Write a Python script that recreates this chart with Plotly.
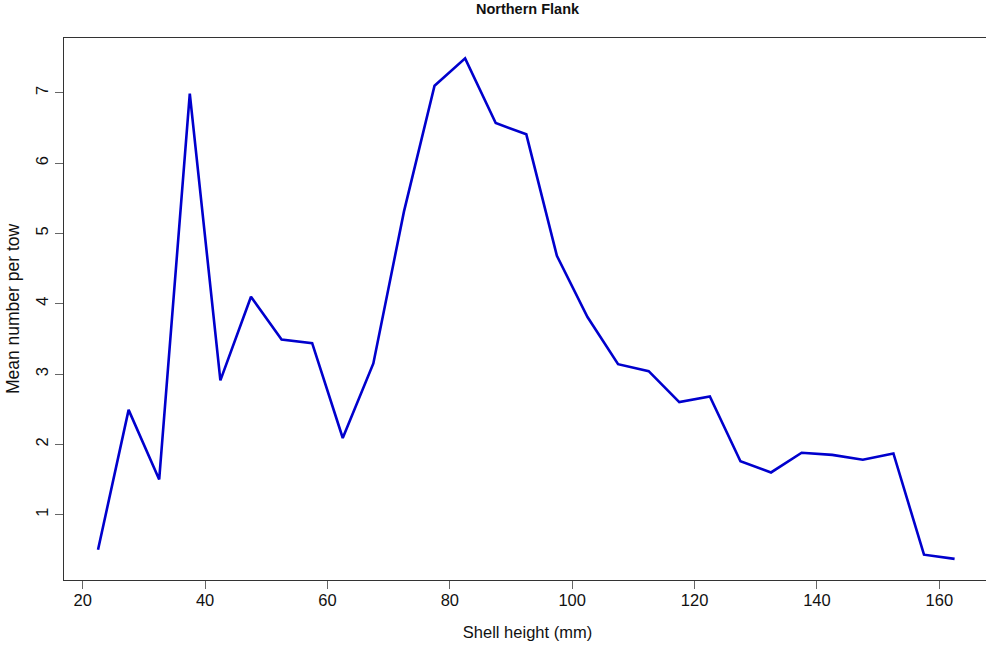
import plotly.graph_objects as go

shell_height = [22.5, 27.5, 32.5, 37.5, 42.5, 47.5, 52.5, 57.5, 62.5, 67.5,
                72.5, 77.5, 82.5, 87.5, 92.5, 97.5, 102.5, 107.5, 112.5, 117.5,
                122.5, 127.5, 132.5, 137.5, 142.5, 147.5, 152.5, 157.5, 162.5]
mean_per_tow = [0.50, 2.49, 1.50, 6.99, 2.91, 4.10, 3.49, 3.44, 2.09, 3.15,
                5.31, 7.10, 7.49, 6.57, 6.41, 4.68, 3.81, 3.14, 3.04, 2.60,
                2.68, 1.76, 1.60, 1.88, 1.85, 1.78, 1.87, 0.43, 0.37]

x_ticks = [20, 40, 60, 80, 100, 120, 140, 160]
y_ticks = [1, 2, 3, 4, 5, 6, 7]

FONT = "Liberation Sans, Arial, Helvetica, sans-serif"

fig = go.Figure()
fig.add_trace(go.Scatter(
    x=shell_height, y=mean_per_tow, mode="lines",
    line=dict(color="#0000CD", width=2.6),
    showlegend=False,
))

fig.update_layout(
    width=991, height=649,
    margin=dict(l=64, r=0, t=38, b=69),
    paper_bgcolor="white", plot_bgcolor="white",
    font=dict(family=FONT, color="#111111"),
    title=dict(text="<b>Northern Flank</b>", x=527.5 / 991, xanchor="center",
               y=1 - 8.5 / 649, yanchor="middle", yref="container",
               font=dict(size=14.5, family=FONT, color="#111111")),
)

fig.update_xaxes(
    range=[16.94, 168.45], tickvals=x_ticks, ticktext=[str(v) for v in x_ticks],
    showgrid=False, zeroline=False,
    showline=True, linecolor="#333333", linewidth=1, mirror=True,
    ticks="outside", ticklen=8, tickcolor="#666666", tickwidth=1,
    tickfont=dict(size=16.5, family=FONT, color="#111111"),
    ticklabelstandoff=-3,
    title=dict(text="Shell height (mm)", font=dict(size=16.5, family=FONT, color="#111111"),
               standoff=18),
    automargin=False,
)
fig.update_yaxes(
    range=[0.07, 7.78], tickvals=y_ticks, ticktext=[str(v) for v in y_ticks],
    showgrid=False, zeroline=False,
    showline=True, linecolor="#333333", linewidth=1, mirror=False,
    ticks="outside", ticklen=8, tickcolor="#666666", tickwidth=1,
    tickangle=-90,
    tickfont=dict(size=16.5, family=FONT, color="#111111"),
    ticklabelstandoff=0,
    title=dict(text="Mean number per tow", font=dict(size=17.5, family=FONT, color="#111111"),
               standoff=9),
    automargin=False,
)

fig.write_html("out.html", config={"displayModeBar": False},
               post_script="document.body.style.margin='0';document.body.style.overflow='hidden';")
